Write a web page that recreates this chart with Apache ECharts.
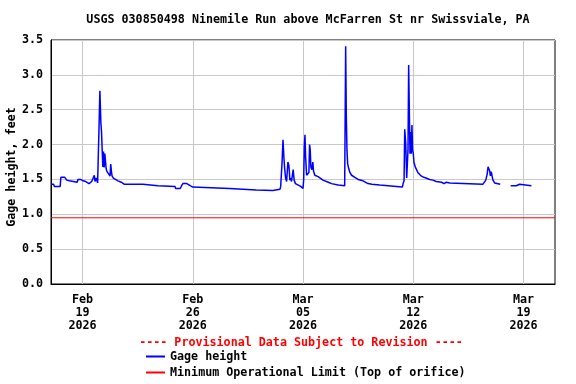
<!DOCTYPE html>
<html><head><meta charset="utf-8">
<script src="https://cdn.jsdelivr.net/npm/echarts@6/dist/echarts.min.js"></script>
<style>html,body{margin:0;padding:0;background:#fff}#c{width:576px;height:384px}</style>
</head><body><div id="c"></div>
<script>
const titleText = 'USGS 030850498 Ninemile Run above McFarren St nr Swissviale, PA';
const yAxisTitle = 'Gage height, feet';
const provisionalText = '---- Provisional Data Subject to Revision ----';
const seriesNames = ['Gage height', 'Minimum Operational Limit (Top of orifice)'];
const xRange = ['2026-02-17 00:00', '2026-03-21 00:00'];
const xTickDates = ['2026-02-19 00:00', '2026-02-26 00:00', '2026-03-05 00:00', '2026-03-12 00:00', '2026-03-19 00:00'];
const monthNames = ['Jan','Feb','Mar','Apr','May','Jun','Jul','Aug','Sep','Oct','Nov','Dec'];
const yMin = 0, yMax = 3.5, yStep = 0.5;
const minOpLimit = 0.95;

const gageTimes = [
'2026-02-17 00:00','2026-02-17 04:00','2026-02-17 05:00','2026-02-17 14:00','2026-02-17 15:00','2026-02-17 21:00',
'2026-02-18 00:00','2026-02-18 04:00','2026-02-18 06:00','2026-02-18 16:00','2026-02-18 17:00','2026-02-18 21:00',
'2026-02-19 01:00','2026-02-19 05:00','2026-02-19 08:00','2026-02-19 10:00','2026-02-19 13:00','2026-02-19 14:00',
'2026-02-19 17:00','2026-02-19 18:00','2026-02-19 19:00','2026-02-19 21:00','2026-02-19 23:00',
'2026-02-20 00:00','2026-02-20 01:00','2026-02-20 02:30','2026-02-20 04:00','2026-02-20 05:00','2026-02-20 06:00',
'2026-02-20 07:00','2026-02-20 08:00','2026-02-20 09:00','2026-02-20 10:00','2026-02-20 12:00','2026-02-20 13:00',
'2026-02-20 15:00','2026-02-20 18:00','2026-02-20 19:00','2026-02-20 20:00','2026-02-20 21:00','2026-02-20 23:00',
'2026-02-21 01:00','2026-02-21 06:00','2026-02-21 11:00','2026-02-21 16:00',
'2026-02-22 20:00','2026-02-22 21:00','2026-02-23 19:00','2026-02-23 20:00','2026-02-24 21:00','2026-02-24 22:00',
'2026-02-25 05:00','2026-02-25 07:00','2026-02-25 09:00','2026-02-25 12:00','2026-02-25 15:00','2026-02-25 20:00',
'2026-02-26 00:00','2026-02-26 01:00','2026-02-28 08:00','2026-02-28 09:00',
'2026-03-02 01:00','2026-03-02 02:00','2026-03-03 02:00','2026-03-03 03:00','2026-03-03 13:00','2026-03-03 14:00',
'2026-03-03 15:00','2026-03-03 16:00','2026-03-03 17:30','2026-03-03 19:00','2026-03-03 20:00','2026-03-03 21:30',
'2026-03-03 23:00','2026-03-04 01:00','2026-03-04 02:30','2026-03-04 04:00','2026-03-04 05:30','2026-03-04 06:30',
'2026-03-04 09:00','2026-03-04 10:30','2026-03-04 12:30','2026-03-04 15:30','2026-03-04 20:30',
'2026-03-05 00:00','2026-03-05 01:00','2026-03-05 02:00','2026-03-05 03:00','2026-03-05 04:00','2026-03-05 05:30',
'2026-03-05 07:00','2026-03-05 09:00','2026-03-05 10:00','2026-03-05 11:00','2026-03-05 12:00','2026-03-05 13:30',
'2026-03-05 15:00','2026-03-05 16:00','2026-03-05 18:00','2026-03-05 20:30','2026-03-05 23:00',
'2026-03-06 01:30','2026-03-06 06:30','2026-03-06 14:30','2026-03-06 19:30',
'2026-03-07 05:30','2026-03-07 15:30','2026-03-07 17:00','2026-03-07 18:00','2026-03-07 19:00','2026-03-07 20:00',
'2026-03-07 21:30','2026-03-07 23:30','2026-03-08 02:00','2026-03-08 07:00','2026-03-08 12:00','2026-03-08 19:30',
'2026-03-09 03:00','2026-03-09 09:00','2026-03-09 21:00','2026-03-10 22:30',
'2026-03-11 07:30','2026-03-11 08:30','2026-03-11 10:00','2026-03-11 11:00','2026-03-11 12:30','2026-03-11 14:00',
'2026-03-11 15:00','2026-03-11 16:00','2026-03-11 17:00','2026-03-11 18:00','2026-03-11 19:00','2026-03-11 20:00',
'2026-03-11 21:00','2026-03-11 22:00','2026-03-11 23:00',
'2026-03-12 00:00','2026-03-12 01:00','2026-03-12 03:00','2026-03-12 05:00','2026-03-12 07:00','2026-03-12 09:30',
'2026-03-12 12:00','2026-03-12 16:00','2026-03-12 19:30',
'2026-03-13 01:00','2026-03-13 06:00','2026-03-13 11:00','2026-03-13 19:00','2026-03-13 21:30','2026-03-13 23:00',
'2026-03-14 02:30','2026-03-14 07:30','2026-03-14 10:00','2026-03-16 10:00',
'2026-03-16 14:30','2026-03-16 16:30','2026-03-16 18:00','2026-03-16 19:00','2026-03-16 20:30','2026-03-16 21:30',
'2026-03-16 23:00','2026-03-17 00:30','2026-03-17 01:30','2026-03-17 04:00','2026-03-17 06:30','2026-03-17 12:30',
'2026-03-17 20:00',
'2026-03-18 04:30','2026-03-18 13:00','2026-03-18 15:30','2026-03-18 18:00','2026-03-18 19:00','2026-03-19 12:00'
];
const gageValues = [
1.43,1.43,1.40,1.40,1.53,1.53,
1.49,1.48,1.46,1.46,1.50,1.50,
1.48,1.47,1.45,1.44,1.44,1.47,
1.48,1.56,1.47,1.52,1.45,
1.46,2.18,2.77,2.31,2.18,1.92,
1.68,1.90,1.67,1.87,1.66,1.62,
1.59,1.55,1.72,1.62,1.55,1.52,
1.50,1.48,1.46,1.43,
1.43,1.41,1.41,1.40,1.40,1.37,
1.37,1.41,1.44,1.46,1.44,1.41,
1.39,1.37,1.37,1.35,
1.35,1.34,1.34,1.36,1.36,1.40,
1.41,1.73,2.07,1.80,1.66,1.52,
1.47,1.75,1.70,1.49,1.52,1.47,
1.64,1.49,1.44,1.42,1.40,
1.37,1.49,1.97,2.14,1.82,1.56,
1.54,1.60,2.00,1.92,1.68,1.64,
1.75,1.62,1.56,1.55,1.54,
1.52,1.49,1.46,1.44,
1.42,1.41,3.41,2.40,1.92,1.73,
1.66,1.60,1.56,1.53,1.50,1.48,
1.44,1.43,1.42,1.40,
1.39,1.44,1.48,2.22,2.02,1.52,
1.50,1.92,3.14,2.50,1.87,2.18,
1.87,2.28,1.92,
1.88,1.75,1.68,1.64,1.60,1.58,
1.55,1.53,1.52,
1.50,1.49,1.47,1.46,1.48,1.44,
1.46,1.45,1.43,1.43,
1.49,1.57,1.68,1.66,1.62,1.55,
1.61,1.53,1.49,1.45,1.43,1.43,
null,
1.41,1.41,1.43,1.43,1.41,1.41
];

function toMs(s) {
  const m = s.match(/(\d+)-(\d+)-(\d+) (\d+):(\d+)/);
  return Date.UTC(+m[1], +m[2] - 1, +m[3], +m[4], +m[5]);
}
const FONT = "'DejaVu Sans Mono', 'Liberation Mono', monospace";
const FS = 11.7;
const xMin = toMs(xRange[0]), xMax = toMs(xRange[1]);
const xTicks = xTickDates.map(toMs);
const gageData = gageTimes.map((t, i) => [toMs(t), gageValues[i]]);
const limitData = [[xMin, minOpLimit], [xMax, minOpLimit]];
const legendText = {fontFamily: FONT, fontSize: FS, fontWeight: 'bold', color: '#000', lineHeight: 13};

const chart = echarts.init(document.getElementById('c'), null, {renderer: 'canvas'});
chart.setOption({
  animation: false,
  backgroundColor: '#fff',
  title: {
    text: titleText, left: 303, top: 9, textAlign: 'center',
    textStyle: {fontFamily: FONT, fontSize: FS, fontWeight: 'bold', color: '#000'}
  },
  grid: {left: 51, right: 21, top: 40, bottom: 100, show: true, borderColor: '#000', borderWidth: 1, backgroundColor: 'transparent'},
  xAxis: {
    type: 'value', min: xMin, max: xMax,
    axisLine: {show: true, lineStyle: {color: '#000', width: 1}},
    axisTick: {show: false, customValues: xTicks},
    axisLabel: {
      customValues: xTicks, margin: 9, color: '#000',
      fontFamily: FONT, fontSize: FS, fontWeight: 'bold', lineHeight: 13,
      formatter: v => {
        const d = new Date(v);
        return monthNames[d.getUTCMonth()] + '\n' + String(d.getUTCDate()).padStart(2, '0') + '\n' + d.getUTCFullYear();
      }
    },
    splitLine: {show: true, lineStyle: {color: '#c8c8c8', width: 1}}
  },
  yAxis: {
    type: 'value', min: yMin, max: yMax, interval: yStep,
    axisLine: {show: true, lineStyle: {color: '#000', width: 1}},
    axisTick: {show: false},
    axisLabel: {margin: 8, color: '#000', fontFamily: FONT, fontSize: FS, fontWeight: 'bold', formatter: v => v.toFixed(1)},
    splitLine: {show: true, lineStyle: {color: '#c8c8c8', width: 1}}
  },
  legend: [
    {left: 146, top: 350, itemWidth: 19, itemHeight: 2, icon: 'rect', padding: 0, textStyle: legendText, data: [seriesNames[0]]},
    {left: 146, top: 366, itemWidth: 19, itemHeight: 2, icon: 'rect', padding: 0, textStyle: legendText, data: [seriesNames[1]]}
  ],
  graphic: [
    {type: 'text', x: 12, y: 167, rotation: Math.PI / 2,
     style: {text: yAxisTitle, fill: '#000', font: 'bold ' + FS + 'px ' + FONT, align: 'center', verticalAlign: 'middle'}},
    {type: 'text', x: 301, y: 343,
     style: {text: provisionalText, fill: '#ff0000', font: 'bold ' + FS + 'px ' + FONT, align: 'center', verticalAlign: 'middle'}}
  ],
  series: [
    {name: seriesNames[0], type: 'line', data: gageData, showSymbol: false, connectNulls: false,
     lineStyle: {color: '#0000ff', width: 1.5}, itemStyle: {color: '#0000ff'}, z: 3},
    {name: seriesNames[1], type: 'line', data: limitData, showSymbol: false,
     lineStyle: {color: '#ff0000', width: 1}, itemStyle: {color: '#ff0000'}, z: 2}
  ]
});
</script></body></html>
